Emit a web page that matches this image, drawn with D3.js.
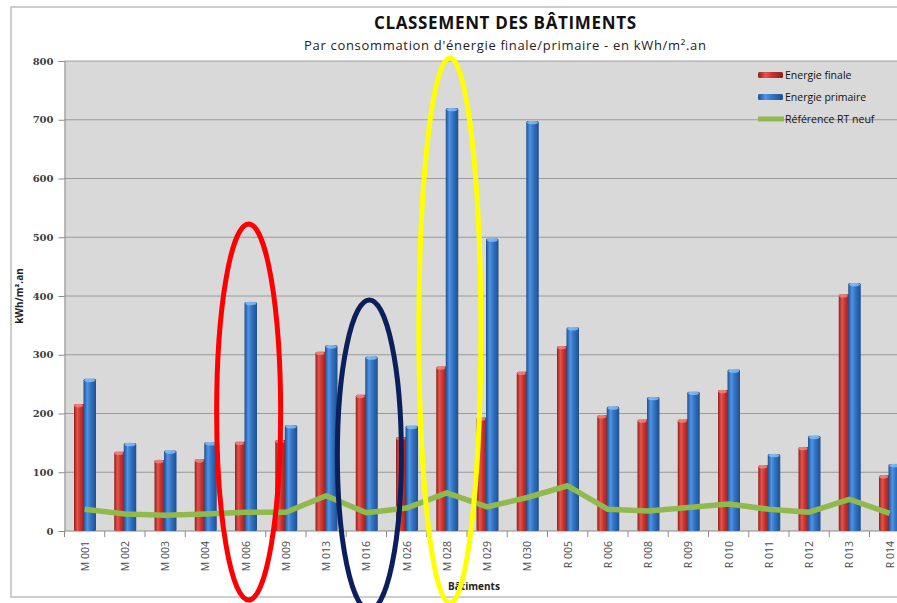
<!DOCTYPE html>
<html>
<head>
<meta charset="utf-8">
<script src="https://cdn.jsdelivr.net/npm/d3@7"></script>
<style>
  body { margin: 0; background: #fff; }
  svg { display: block; }
</style>
</head>
<body>
<script>
const buildings = ['M 001', 'M 002', 'M 003', 'M 004', 'M 006', 'M 009', 'M 013', 'M 016', 'M 026', 'M 028', 'M 029',
    'M 030', 'R 005', 'R 006', 'R 008', 'R 009', 'R 010', 'R 011', 'R 012', 'R 013', 'R 014'];
const energieFinale = [216, 135, 121, 122, 152, 155, 305, 232, 160, 280, 193, 271, 315, 197, 190, 190, 240, 112, 143, 403, 95];
const energiePrimaire = [259, 150, 137, 151, 390, 180, 316, 297, 179, 720, 498, 698, 347, 212, 228, 237, 275, 131, 162, 422, 114];
const referenceRT = [37, 29, 27, 29, 32, 32, 60, 31, 39, 65, 41, 57, 77, 37, 34, 40, 46, 37, 32, 54, 30];
const yTicks = [0, 100, 200, 300, 400, 500, 600, 700, 800];
// buildings circled on the original picture
const circled = [
    { name: 'M 006', color: '#ff0000', top: 600, bottom: 224, rx: 32 },
    { name: 'M 016', color: '#0a1f5c', top: 610, bottom: 300, rx: 32 },
    { name: 'M 028', color: '#ffff00', top: 603, bottom: 58, rx: 31 }
];

const width = 897, height = 603;
const margin = { left: 64.5, top: 61, bottom: 72 };

const x = d3.scaleBand()
    .domain(buildings)
    .range([margin.left, margin.left + buildings.length * 40.25]);

const y = d3.scaleLinear()
    .domain([0, 800])
    .range([height - margin.bottom, margin.top]);

const svg = d3.create('svg')
    .attr('width', width)
    .attr('height', height);

const defs = svg.append('defs');
function cylinder(id, dark, mid, light) {
    const g = defs.append('linearGradient').attr('id', id);
    [[0, dark], [0.3, light], [0.55, mid], [1, dark]].forEach(([o, c]) => {
        g.append('stop').attr('offset', o).attr('stop-color', c);
    });
}
cylinder('redBar', '#8e1f1b', '#c93530', '#e8544c');
cylinder('blueBar', '#1f4f8f', '#3475c4', '#4f94e6');

// outer frame
svg.append('rect')
    .attr('x', 11).attr('y', 7)
    .attr('width', width).attr('height', 590)
    .attr('fill', '#fff')
    .attr('stroke', '#bdbdbd')
    .attr('stroke-width', 1.5);

// plot area
svg.append('rect')
    .attr('x', margin.left).attr('y', y(800))
    .attr('width', width - margin.left).attr('height', y(0) - y(800))
    .attr('fill', '#d9d9d9');

svg.append('g')
    .selectAll('line')
    .data(yTicks.slice(1))
    .join('line')
    .attr('x1', margin.left).attr('x2', width)
    .attr('y1', d => y(d)).attr('y2', d => y(d))
    .attr('stroke', '#8a8a8a')
    .attr('stroke-width', 0.8);

// axes
const y_axis = d3.axisLeft(y).tickValues(yTicks).tickSize(6).tickPadding(5);
const yG = svg.append('g')
    .attr('transform', `translate(${margin.left},0)`)
    .call(y_axis);
yG.select('.domain').attr('stroke', '#8a8a8a');
yG.selectAll('.tick line').attr('stroke', '#8a8a8a');
yG.selectAll('text')
    .attr('font-family', 'DejaVu Serif')
    .attr('font-size', 10)
    .attr('font-weight', 'bold')
    .attr('fill', '#404040');

const xG = svg.append('g')
    .attr('transform', `translate(0,${y(0)})`);
xG.append('line')
    .attr('x1', margin.left).attr('x2', width)
    .attr('stroke', '#8a8a8a');
xG.selectAll('.tk')
    .data(buildings.concat(['end']))
    .join('line')
    .attr('class', 'tk')
    .attr('x1', (d, i) => margin.left + i * x.step())
    .attr('x2', (d, i) => margin.left + i * x.step())
    .attr('y2', 6)
    .attr('stroke', '#8a8a8a');
xG.selectAll('text')
    .data(buildings)
    .join('text')
    .attr('transform', d => `translate(${x(d) + x.bandwidth() / 2 + 4},10) rotate(-90)`)
    .attr('text-anchor', 'end')
    .attr('font-family', 'Open Sans')
    .attr('font-size', 10.5)
    .attr('fill', '#4a4a4a')
    .text(d => d);

// bars
const bar = svg.append('g')
    .selectAll('g')
    .data(buildings)
    .join('g');

bar.append('rect')
    .attr('x', d => x(d) + 9.5)
    .attr('y', (d, i) => y(energieFinale[i]))
    .attr('width', 11)
    .attr('height', (d, i) => y(0) - y(energieFinale[i]))
    .attr('rx', 1.5)
    .attr('fill', 'url(#redBar)');

bar.append('rect')
    .attr('x', d => x(d) + 19)
    .attr('y', (d, i) => y(energiePrimaire[i]))
    .attr('width', 12.5)
    .attr('height', (d, i) => y(0) - y(energiePrimaire[i]))
    .attr('rx', 1.5)
    .attr('fill', 'url(#blueBar)');

bar.append('ellipse')
    .attr('cx', d => x(d) + 25.25)
    .attr('cy', (d, i) => y(energiePrimaire[i]) + 1.5)
    .attr('rx', 5.5).attr('ry', 1.8)
    .attr('fill', '#8cc0f5')
    .attr('opacity', 0.8);

bar.append('ellipse')
    .attr('cx', d => x(d) + 14)
    .attr('cy', (d, i) => y(energieFinale[i]) + 1.5)
    .attr('rx', 4.5).attr('ry', 1.8)
    .attr('fill', '#f08a84')
    .attr('opacity', 0.8);

// reference line
const line = d3.line()
    .x((d, i) => x(buildings[i]) + x.bandwidth() / 2)
    .y(d => y(d));

svg.append('path')
    .datum(referenceRT)
    .attr('d', line)
    .attr('fill', 'none')
    .attr('stroke', '#92b94e')
    .attr('stroke-width', 5.5)
    .attr('stroke-linejoin', 'round');

// titles
svg.append('text')
    .attr('x', 505).attr('y', 29)
    .attr('text-anchor', 'middle')
    .attr('font-family', 'Open Sans')
    .attr('font-weight', 'bold')
    .attr('font-size', 17)
    .attr('textLength', 262)
    .attr('fill', '#111')
    .text('CLASSEMENT DES BÂTIMENTS');

svg.append('text')
    .attr('x', 505).attr('y', 50)
    .attr('text-anchor', 'middle')
    .attr('font-family', 'Open Sans')
    .attr('font-size', 13)
    .attr('textLength', 402)
    .attr('fill', '#222')
    .text("Par consommation  d'énergie  finale/primaire  - en kWh/m².an");

svg.append('text')
    .attr('transform', 'translate(23,296) rotate(-90)')
    .attr('text-anchor', 'middle')
    .attr('font-family', 'Open Sans')
    .attr('font-weight', 'bold')
    .attr('font-size', 10)
    .attr('fill', '#222')
    .text('kWh/m².an');

svg.append('text')
    .attr('x', 474).attr('y', 590)
    .attr('text-anchor', 'middle')
    .attr('font-family', 'Open Sans')
    .attr('font-weight', 'bold')
    .attr('font-size', 10)
    .attr('fill', '#222')
    .text('Bâtiments');

// legend
const legendItems = [
    { label: 'Energie finale', fill: 'url(#redBar)' },
    { label: 'Energie primaire', fill: 'url(#blueBar)' },
    { label: 'Référence RT neuf', line: '#92b94e' }
];
const legend = svg.append('g')
    .selectAll('g')
    .data(legendItems)
    .join('g')
    .attr('transform', (d, i) => `translate(758,${75 + i * 22})`);
legend.filter(d => d.fill)
    .append('rect')
    .attr('x', 0).attr('y', -3)
    .attr('width', 25).attr('height', 6)
    .attr('rx', 1.5)
    .attr('fill', d => d.fill);
legend.filter(d => d.line)
    .append('line')
    .attr('x1', 0).attr('x2', 26)
    .attr('stroke', d => d.line)
    .attr('stroke-width', 5);
legend.append('text')
    .attr('x', 27).attr('y', 4)
    .attr('font-family', 'Open Sans')
    .attr('font-size', 10.5)
    .attr('fill', '#111')
    .text(d => d.label);

// annotation ellipses
svg.append('g')
    .selectAll('ellipse')
    .data(circled)
    .join('ellipse')
    .attr('cx', d => x(d.name) + x.bandwidth() / 2 + 3)
    .attr('cy', d => (d.top + d.bottom) / 2)
    .attr('rx', d => d.rx)
    .attr('ry', d => (d.top - d.bottom) / 2)
    .attr('fill', 'none')
    .attr('stroke', d => d.color)
    .attr('stroke-width', 5);

document.querySelector('body').appendChild(svg.node());
</script>
</body>
</html>
